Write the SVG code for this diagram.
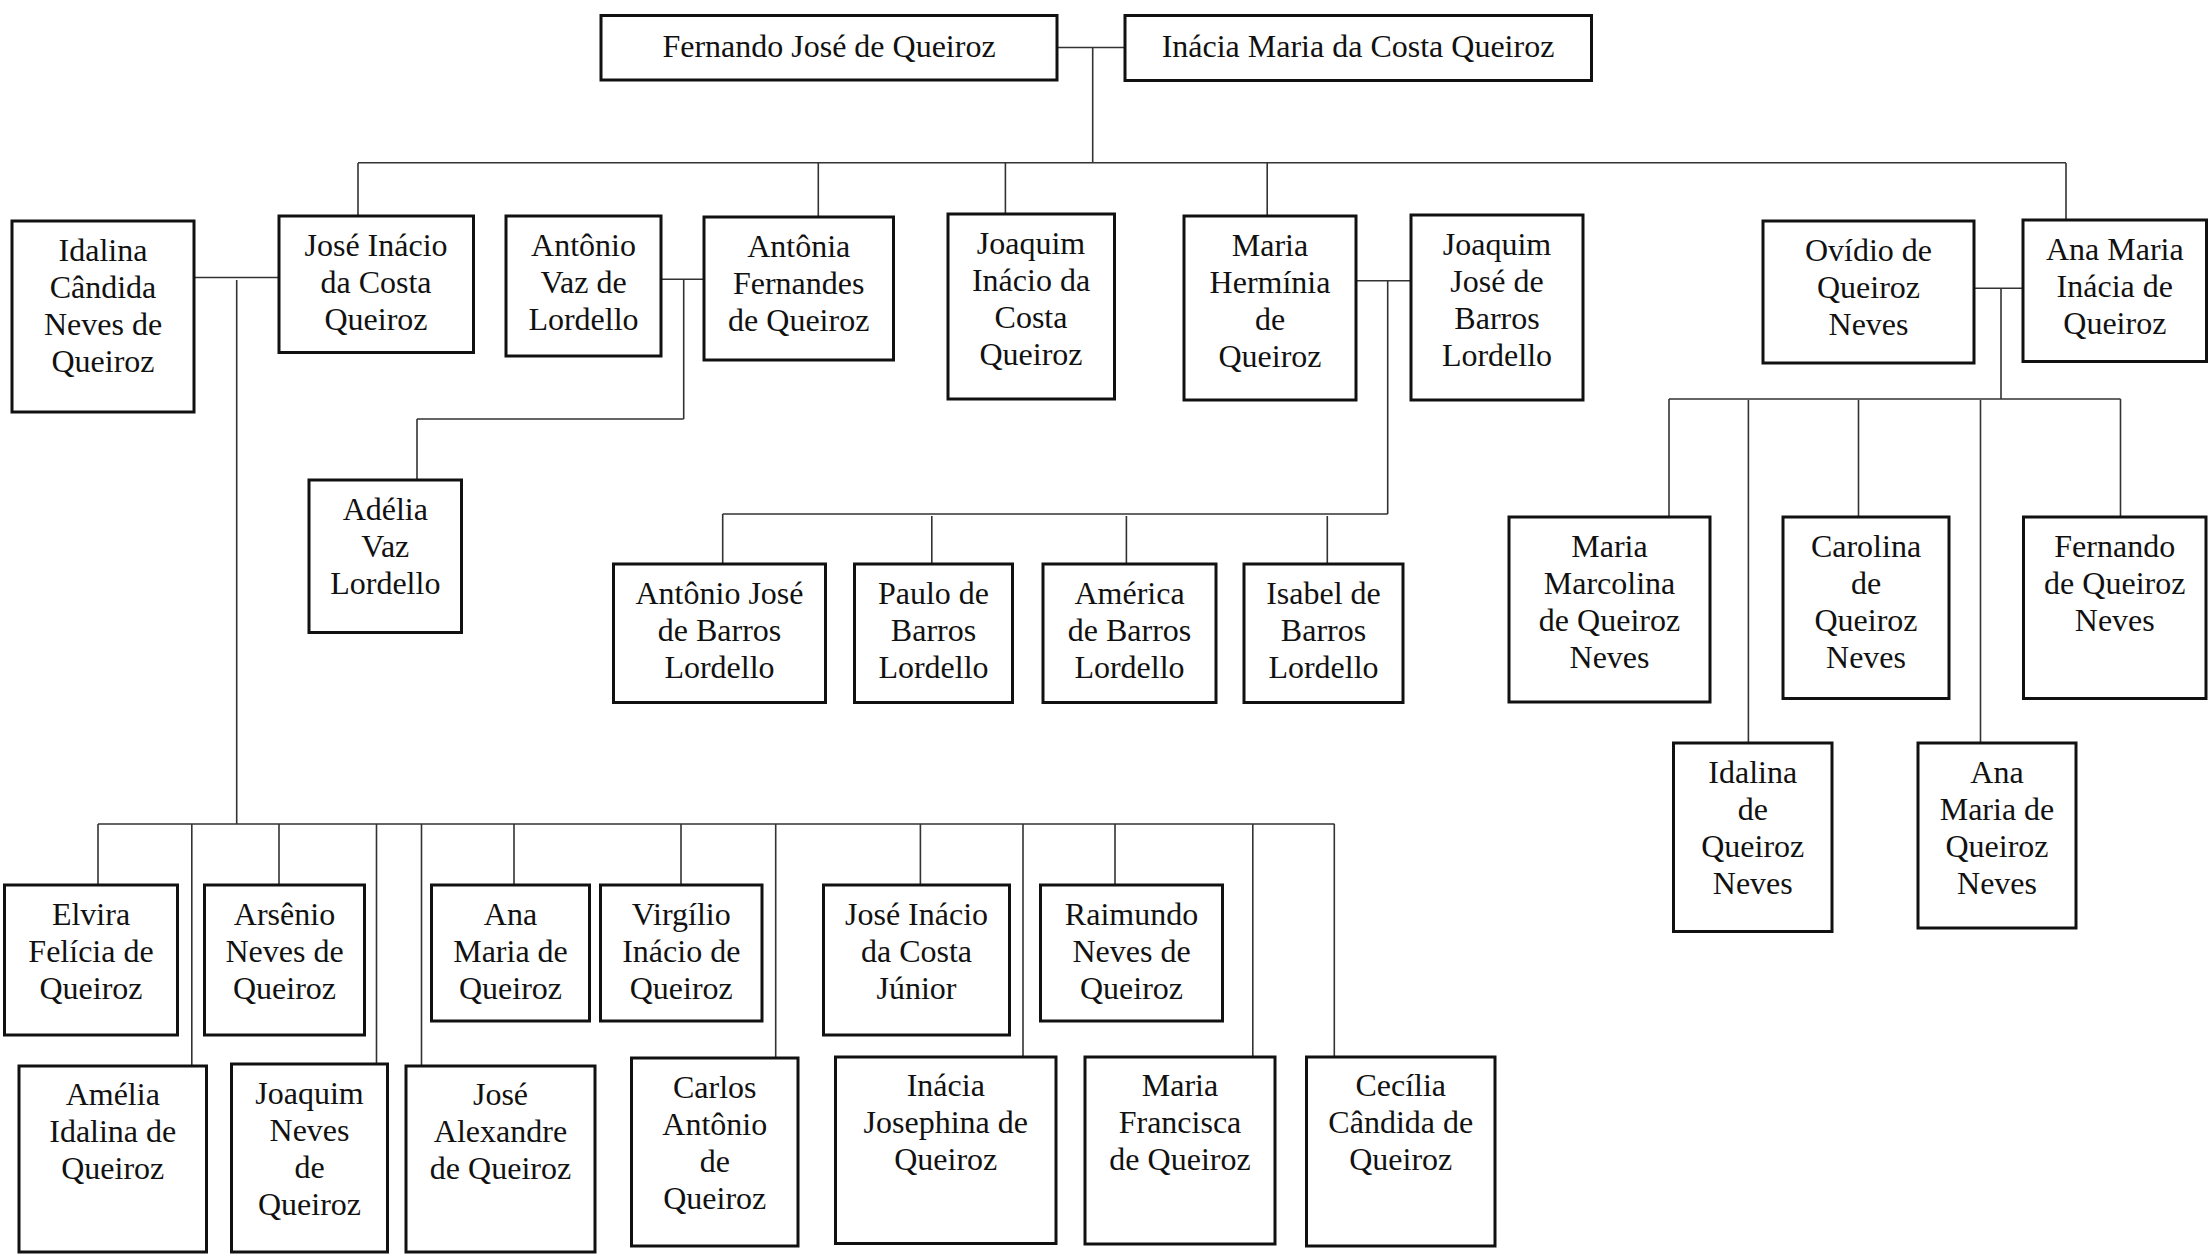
<svg xmlns="http://www.w3.org/2000/svg" width="2212" height="1256" viewBox="0 0 2212 1256">
<style>
.box{fill:#fff;stroke:#111;stroke-width:3}
.lbl{font-family:"Liberation Serif","Times New Roman",serif;font-size:32px;fill:#111;text-anchor:middle}
.con{fill:none;stroke:#333;stroke-width:1.6}
</style>
<rect x="0" y="0" width="2212" height="1256" fill="#fff"/>
<g id="connectors" class="con">
<path d="M1057,47.5H1125M1092.7,47.5V163M358,162.7H2066M358,163V216M818.3,163V217M1005.4,163V214M1267.2,163V216M2066,163V220"/>
<path d="M194,277.5H279M236.7,280V824M98,824H1334.5M98,824V885M191.8,824V1066M279,824V885M376.5,824V1064M421.5,824V1066M514,824V885M681,824V885M775.7,824V1058M920.4,824V885M1023,824V1057M1115,824V885M1252.8,824V1057M1334.3,824V1057"/>
<path d="M661,279.3H704M683.7,279.3V419M417,419H683.7M417,419V480"/>
<path d="M1356,280.7H1411M1387.7,280.7V514M722.7,514H1387.7M722.7,514V564M931.8,516V564M1126.4,516V564M1327.3,516V564"/>
<path d="M1974,288.3H2023M2001,288.3V399M1669,399H2120.5M1669,399V517M1748.4,400V743M1858.5,400V517M1980.5,400V743M2120.5,399V517"/>
</g>
<g id="n-fernando-jose"><rect class="box" x="601" y="15.5" width="456" height="64.5"/><text class="lbl" x="829" y="57">Fernando José de Queiroz</text></g>
<g id="n-inacia-maria"><rect class="box" x="1125" y="15.5" width="466.5" height="65"/><text class="lbl" x="1358" y="57">Inácia Maria da Costa Queiroz</text></g>
<g id="n-idalina-candida"><rect class="box" x="12" y="221" width="182" height="191"/><text class="lbl" x="103" y="261"><tspan x="103">Idalina</tspan><tspan x="103" dy="37">Cândida</tspan><tspan x="103" dy="37">Neves de</tspan><tspan x="103" dy="37">Queiroz</tspan></text></g>
<g id="n-jose-inacio"><rect class="box" x="279" y="216" width="194.5" height="136.5"/><text class="lbl" x="376" y="256"><tspan x="376">José Inácio</tspan><tspan x="376" dy="37">da Costa</tspan><tspan x="376" dy="37">Queiroz</tspan></text></g>
<g id="n-antonio-vaz"><rect class="box" x="506" y="216" width="155" height="140"/><text class="lbl" x="583.5" y="256"><tspan x="583.5">Antônio</tspan><tspan x="583.5" dy="37">Vaz de</tspan><tspan x="583.5" dy="37">Lordello</tspan></text></g>
<g id="n-antonia"><rect class="box" x="704" y="217" width="189.5" height="143"/><text class="lbl" x="798.7" y="256.5"><tspan x="798.7">Antônia</tspan><tspan x="798.7" dy="37">Fernandes</tspan><tspan x="798.7" dy="37">de Queiroz</tspan></text></g>
<g id="n-joaquim-inacio"><rect class="box" x="948" y="214" width="166.5" height="185"/><text class="lbl" x="1031" y="253.5"><tspan x="1031">Joaquim</tspan><tspan x="1031" dy="37">Inácio da</tspan><tspan x="1031" dy="37">Costa</tspan><tspan x="1031" dy="37">Queiroz</tspan></text></g>
<g id="n-maria-herminia"><rect class="box" x="1184" y="216" width="172" height="184"/><text class="lbl" x="1270" y="256"><tspan x="1270">Maria</tspan><tspan x="1270" dy="37">Hermínia</tspan><tspan x="1270" dy="37">de</tspan><tspan x="1270" dy="37">Queiroz</tspan></text></g>
<g id="n-joaquim-jose"><rect class="box" x="1411" y="215" width="172" height="185"/><text class="lbl" x="1497" y="255"><tspan x="1497">Joaquim</tspan><tspan x="1497" dy="37">José de</tspan><tspan x="1497" dy="37">Barros</tspan><tspan x="1497" dy="37">Lordello</tspan></text></g>
<g id="n-ovidio"><rect class="box" x="1763" y="221" width="211" height="142"/><text class="lbl" x="1868.5" y="261"><tspan x="1868.5">Ovídio de</tspan><tspan x="1868.5" dy="37">Queiroz</tspan><tspan x="1868.5" dy="37">Neves</tspan></text></g>
<g id="n-ana-maria-inacia"><rect class="box" x="2023" y="220" width="183.5" height="141.5"/><text class="lbl" x="2114.8" y="260"><tspan x="2114.8">Ana Maria</tspan><tspan x="2114.8" dy="37">Inácia de</tspan><tspan x="2114.8" dy="37">Queiroz</tspan></text></g>
<g id="n-adelia"><rect class="box" x="309" y="480" width="152.5" height="152.5"/><text class="lbl" x="385.3" y="520"><tspan x="385.3">Adélia</tspan><tspan x="385.3" dy="37">Vaz</tspan><tspan x="385.3" dy="37">Lordello</tspan></text></g>
<g id="n-antonio-jose"><rect class="box" x="613.5" y="564" width="212" height="138.5"/><text class="lbl" x="719.5" y="604"><tspan x="719.5">Antônio José</tspan><tspan x="719.5" dy="37">de Barros</tspan><tspan x="719.5" dy="37">Lordello</tspan></text></g>
<g id="n-paulo"><rect class="box" x="854.5" y="564" width="158" height="138.5"/><text class="lbl" x="933.5" y="604"><tspan x="933.5">Paulo de</tspan><tspan x="933.5" dy="37">Barros</tspan><tspan x="933.5" dy="37">Lordello</tspan></text></g>
<g id="n-america"><rect class="box" x="1043" y="564" width="173" height="138.5"/><text class="lbl" x="1129.5" y="604"><tspan x="1129.5">América</tspan><tspan x="1129.5" dy="37">de Barros</tspan><tspan x="1129.5" dy="37">Lordello</tspan></text></g>
<g id="n-isabel"><rect class="box" x="1244" y="564" width="159" height="138.5"/><text class="lbl" x="1323.5" y="604"><tspan x="1323.5">Isabel de</tspan><tspan x="1323.5" dy="37">Barros</tspan><tspan x="1323.5" dy="37">Lordello</tspan></text></g>
<g id="n-maria-marcolina"><rect class="box" x="1509" y="517" width="201" height="185"/><text class="lbl" x="1609.5" y="557"><tspan x="1609.5">Maria</tspan><tspan x="1609.5" dy="37">Marcolina</tspan><tspan x="1609.5" dy="37">de Queiroz</tspan><tspan x="1609.5" dy="37">Neves</tspan></text></g>
<g id="n-carolina"><rect class="box" x="1783" y="517" width="166" height="181.5"/><text class="lbl" x="1866" y="557"><tspan x="1866">Carolina</tspan><tspan x="1866" dy="37">de</tspan><tspan x="1866" dy="37">Queiroz</tspan><tspan x="1866" dy="37">Neves</tspan></text></g>
<g id="n-fernando-qn"><rect class="box" x="2023.5" y="517" width="182.5" height="181.5"/><text class="lbl" x="2114.75" y="557"><tspan x="2114.75">Fernando</tspan><tspan x="2114.75" dy="37">de Queiroz</tspan><tspan x="2114.75" dy="37">Neves</tspan></text></g>
<g id="n-idalina-qn"><rect class="box" x="1673.5" y="743" width="158.5" height="188.5"/><text class="lbl" x="1752.75" y="783"><tspan x="1752.75">Idalina</tspan><tspan x="1752.75" dy="37">de</tspan><tspan x="1752.75" dy="37">Queiroz</tspan><tspan x="1752.75" dy="37">Neves</tspan></text></g>
<g id="n-ana-maria-qn"><rect class="box" x="1918" y="743" width="158" height="185"/><text class="lbl" x="1997" y="783"><tspan x="1997">Ana</tspan><tspan x="1997" dy="37">Maria de</tspan><tspan x="1997" dy="37">Queiroz</tspan><tspan x="1997" dy="37">Neves</tspan></text></g>
<g id="n-elvira"><rect class="box" x="4.5" y="885" width="173" height="150"/><text class="lbl" x="91" y="925"><tspan x="91">Elvira</tspan><tspan x="91" dy="37">Felícia de</tspan><tspan x="91" dy="37">Queiroz</tspan></text></g>
<g id="n-arsenio"><rect class="box" x="204.5" y="885" width="160" height="150"/><text class="lbl" x="284.5" y="925"><tspan x="284.5">Arsênio</tspan><tspan x="284.5" dy="37">Neves de</tspan><tspan x="284.5" dy="37">Queiroz</tspan></text></g>
<g id="n-ana-maria-q"><rect class="box" x="431.5" y="885" width="158" height="136"/><text class="lbl" x="510.5" y="925"><tspan x="510.5">Ana</tspan><tspan x="510.5" dy="37">Maria de</tspan><tspan x="510.5" dy="37">Queiroz</tspan></text></g>
<g id="n-virgilio"><rect class="box" x="600.5" y="885" width="161.5" height="136"/><text class="lbl" x="681.25" y="925"><tspan x="681.25">Virgílio</tspan><tspan x="681.25" dy="37">Inácio de</tspan><tspan x="681.25" dy="37">Queiroz</tspan></text></g>
<g id="n-jose-inacio-jr"><rect class="box" x="823.5" y="885" width="186" height="150"/><text class="lbl" x="916.5" y="925"><tspan x="916.5">José Inácio</tspan><tspan x="916.5" dy="37">da Costa</tspan><tspan x="916.5" dy="37">Júnior</tspan></text></g>
<g id="n-raimundo"><rect class="box" x="1040.5" y="885" width="182" height="136"/><text class="lbl" x="1131.5" y="925"><tspan x="1131.5">Raimundo</tspan><tspan x="1131.5" dy="37">Neves de</tspan><tspan x="1131.5" dy="37">Queiroz</tspan></text></g>
<g id="n-amelia"><rect class="box" x="19" y="1066" width="187.5" height="186"/><text class="lbl" x="112.75" y="1105"><tspan x="112.75">Amélia</tspan><tspan x="112.75" dy="37">Idalina de</tspan><tspan x="112.75" dy="37">Queiroz</tspan></text></g>
<g id="n-joaquim-neves"><rect class="box" x="231.5" y="1064" width="156" height="188"/><text class="lbl" x="309.5" y="1104"><tspan x="309.5">Joaquim</tspan><tspan x="309.5" dy="37">Neves</tspan><tspan x="309.5" dy="37">de</tspan><tspan x="309.5" dy="37">Queiroz</tspan></text></g>
<g id="n-jose-alexandre"><rect class="box" x="406" y="1066" width="189" height="186"/><text class="lbl" x="500.5" y="1105"><tspan x="500.5">José</tspan><tspan x="500.5" dy="37">Alexandre</tspan><tspan x="500.5" dy="37">de Queiroz</tspan></text></g>
<g id="n-carlos"><rect class="box" x="631.5" y="1058" width="166.5" height="188"/><text class="lbl" x="714.75" y="1098"><tspan x="714.75">Carlos</tspan><tspan x="714.75" dy="37">Antônio</tspan><tspan x="714.75" dy="37">de</tspan><tspan x="714.75" dy="37">Queiroz</tspan></text></g>
<g id="n-inacia-josephina"><rect class="box" x="835.5" y="1057" width="220.5" height="186.5"/><text class="lbl" x="945.75" y="1096"><tspan x="945.75">Inácia</tspan><tspan x="945.75" dy="37">Josephina de</tspan><tspan x="945.75" dy="37">Queiroz</tspan></text></g>
<g id="n-maria-francisca"><rect class="box" x="1085" y="1057" width="190" height="187"/><text class="lbl" x="1180" y="1096"><tspan x="1180">Maria</tspan><tspan x="1180" dy="37">Francisca</tspan><tspan x="1180" dy="37">de Queiroz</tspan></text></g>
<g id="n-cecilia"><rect class="box" x="1306.5" y="1057" width="188.5" height="189"/><text class="lbl" x="1400.75" y="1096"><tspan x="1400.75">Cecília</tspan><tspan x="1400.75" dy="37">Cândida de</tspan><tspan x="1400.75" dy="37">Queiroz</tspan></text></g>
</svg>
